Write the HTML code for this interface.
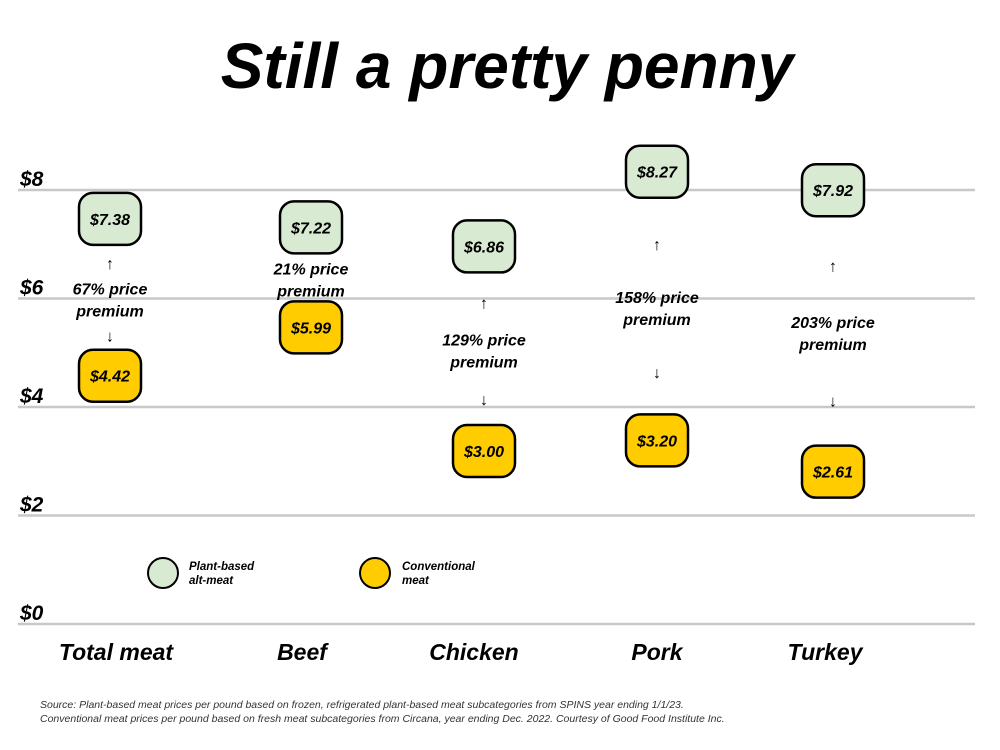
<!DOCTYPE html>
<html><head><meta charset="utf-8"><style>
body{margin:0;background:#fff}
svg{display:block;font-family:"Liberation Sans",Arial,sans-serif}
</style></head><body>
<svg id="c" width="1000" height="750" viewBox="0 0 1000 750">
<text x="507" y="88" text-anchor="middle" font-size="64" font-weight="bold" font-style="italic">Still a pretty penny</text>
<g id="grid"></g><g id="marks"></g>
<g>
<circle cx="163" cy="573" r="15" fill="#d9ead3" stroke="#000" stroke-width="2"/>
<text x="189" y="570" font-size="11.5" font-weight="bold" font-style="italic">Plant-based</text>
<text x="189" y="584" font-size="11.5" font-weight="bold" font-style="italic">alt-meat</text>
<circle cx="375" cy="573" r="15" fill="#ffcc00" stroke="#000" stroke-width="2"/>
<text x="402" y="570" font-size="11.5" font-weight="bold" font-style="italic">Conventional</text>
<text x="402" y="584" font-size="11.5" font-weight="bold" font-style="italic">meat</text>
</g>
<text x="40" y="708" font-size="10.5" font-style="italic" fill="#333">Source: Plant-based meat prices per pound based on frozen, refrigerated plant-based meat subcategories from SPINS year ending 1/1/23.</text>
<text x="40" y="722" font-size="10.5" font-style="italic" fill="#333">Conventional meat prices per pound based on fresh meat subcategories from Circana, year ending Dec. 2022. Courtesy of Good Food Institute Inc.</text>
</svg>
<script>
const categories=["Total meat","Beef","Chicken","Pork","Turkey"];
const plantPrices=[7.38,7.22,6.86,8.27,7.92];
const convPrices=[4.42,5.99,3.00,3.20,2.61];
const premiums=["67%","21%","129%","158%","203%"];
const yTicks=[0,2,4,6,8];
const NS="http://www.w3.org/2000/svg";
const xs=[110,311,484,657,833];
const lx=[116,302,474,657,825];
function gy(v){return 624-54.25*v;}
function by(v){return 610-53*v;}
function mk(t,a,p,txt){const e=document.createElementNS(NS,t);for(const k in a)e.setAttribute(k,a[k]);if(txt!=null)e.textContent=txt;p.appendChild(e);return e;}
const grid=document.getElementById('grid'),marks=document.getElementById('marks');
yTicks.forEach(v=>{
const l=mk('line',{x1:18,x2:975,y1:gy(v),y2:gy(v),stroke:'#c8c8c8','stroke-width':2.5},grid);


const t=mk('text',{x:20,y:gy(v)-4,'font-size':21,'font-weight':'bold','font-style':'italic'},grid,'$'+v);


});
function box(x,cy,v,fill,name){
const g=mk('g',{},marks);


mk('rect',{x:x-31,y:cy-26,width:62,height:52,rx:14,fill:fill,stroke:'#000','stroke-width':2.5},g);
mk('text',{x:x,y:cy+6,'text-anchor':'middle','font-size':16,'font-weight':'bold','font-style':'italic'},g,'$'+v.toFixed(2));
}
categories.forEach((c,i)=>{
const x=xs[i];
const t=mk('text',{x:lx[i],y:660,'text-anchor':'middle','font-size':23,'font-weight':'bold','font-style':'italic'},marks,c);


const gc=by(plantPrices[i]);
const yc=Math.max(by(convPrices[i]),gc+100);
box(x,gc,plantPrices[i],'#d9ead3','plant-price-'+i);
box(x,yc,convPrices[i],'#ffcc00','conventional-price-'+i);
const gb=gc+26,yt=yc-26;
const mid=(gb+yt)/2;
const a=mk('text',{x:x,y:mid-3,'text-anchor':'middle','font-size':16,'font-weight':'bold','font-style':'italic'},marks,premiums[i]+' price');


mk('text',{x:x,y:mid+19,'text-anchor':'middle','font-size':16,'font-weight':'bold','font-style':'italic'},marks,'premium');
if(yt-gb>80){
const up=mk('text',{x:x,y:(gb+mid-16)/2+6,'text-anchor':'middle','font-size':16},marks,'↑');


const dn=mk('text',{x:x,y:(mid+24+yt)/2+6,'text-anchor':'middle','font-size':16},marks,'↓');


}
});
</script>
</body></html>
